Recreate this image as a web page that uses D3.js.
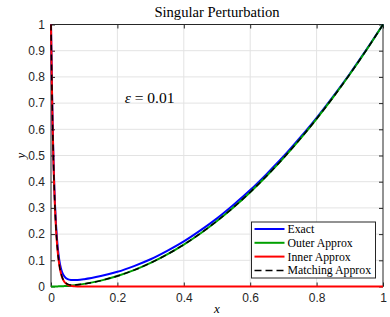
<!DOCTYPE html>
<html>
<head>
<meta charset="utf-8">
<script src="https://cdn.jsdelivr.net/npm/d3@7"></script>
<style>
  body { margin: 0; background: #fff; }
  svg { display: block; font-family: "Liberation Serif", "DejaVu Serif", serif; }
  .grid line { stroke: #e3e3e3; stroke-width: 1; }
  .tick-label { font-size: 12px; fill: #262626; }
  .legend text { font-size: 11.8px; fill: #000; }
</style>
</head>
<body>
<div id="chart"></div>
<script>
// sampled x positions (dense near the boundary layer)
const xs = [0, 0.0025, 0.005, 0.0075, 0.01, 0.015, 0.02, 0.025, 0.03, 0.035, 0.04, 0.05, 0.06, 0.07, 0.08,
  0.1, 0.15, 0.2, 0.25, 0.3, 0.35, 0.4, 0.45, 0.5, 0.55, 0.6, 0.65, 0.7, 0.75, 0.8, 0.85, 0.9, 0.95, 1];

const exactY = [1, 0.783, 0.614, 0.483, 0.380, 0.239, 0.153, 0.101, 0.069, 0.050, 0.039, 0.028, 0.025, 0.0244, 0.025,
  0.028, 0.040, 0.056, 0.078, 0.104, 0.136, 0.172, 0.214, 0.260, 0.312, 0.368, 0.430, 0.496, 0.568, 0.644, 0.726, 0.812, 0.904, 1];

const outerY = [0, 0.00001, 0.00003, 0.00006, 0.0001, 0.0002, 0.0004, 0.0006, 0.0009, 0.0012, 0.0016, 0.0025, 0.0036, 0.0049, 0.0064,
  0.010, 0.0225, 0.040, 0.0625, 0.090, 0.1225, 0.160, 0.2025, 0.250, 0.3025, 0.360, 0.4225, 0.490, 0.5625, 0.640, 0.7225, 0.810, 0.9025, 1];

const innerY = [1, 0.779, 0.607, 0.472, 0.368, 0.223, 0.135, 0.082, 0.050, 0.030, 0.018, 0.007, 0.0025, 0.001, 0.0003,
  0, 0, 0, 0, 0, 0, 0, 0, 0, 0, 0, 0, 0, 0, 0, 0, 0, 0, 0];

const matchY = [1, 0.779, 0.607, 0.472, 0.368, 0.223, 0.135, 0.083, 0.051, 0.031, 0.020, 0.0092, 0.0061, 0.0058, 0.0067,
  0.010, 0.0225, 0.040, 0.0625, 0.090, 0.1225, 0.160, 0.2025, 0.250, 0.3025, 0.360, 0.4225, 0.490, 0.5625, 0.640, 0.7225, 0.810, 0.9025, 1];

const xTicks = [0, 0.2, 0.4, 0.6, 0.8, 1];
const yTicks = [0, 0.1, 0.2, 0.3, 0.4, 0.5, 0.6, 0.7, 0.8, 0.9, 1];

const seriesNames = ['Exact', 'Outer Approx', 'Inner Approx', 'Matching Approx'];
const seriesColors = ['#0000ff', '#00a000', '#ff0000', '#000000'];
const seriesValues = [exactY, outerY, innerY, matchY];

const width = 390, height = 317;
const margin = {top: 24.5, right: 7, bottom: 30.5, left: 51};
const innerW = width - margin.left - margin.right;
const innerH = height - margin.top - margin.bottom;

const svg = d3.select('#chart').append('svg')
    .attr('width', width)
    .attr('height', height);

const chart = svg.append('g')
    .attr('transform', `translate(${margin.left},${margin.top})`);

const xScale = d3.scaleLinear().domain([0, 1]).range([0, innerW]);
const yScale = d3.scaleLinear().domain([0, 1]).range([innerH, 0]);

// grid
const grid = chart.append('g').attr('class', 'grid');
grid.selectAll('.gx')
    .data(xTicks.slice(1, -1))
    .join('line')
    .attr('x1', d => xScale(d)).attr('x2', d => xScale(d))
    .attr('y1', 0).attr('y2', innerH);
grid.selectAll('.gy')
    .data(yTicks.slice(1, -1))
    .join('line')
    .attr('class', 'gy')
    .attr('y1', d => yScale(d)).attr('y2', d => yScale(d))
    .attr('x1', 0).attr('x2', innerW);

// axes, ticks pointing inward on all four sides
const fmt = d => d3.format('')(d);
const styleAxis = g => {
  g.select('.domain').remove();
  g.selectAll('.tick line').attr('stroke', '#262626');
  g.selectAll('.tick text').attr('class', 'tick-label').attr('fill', '#262626');
};

chart.append('g')
    .attr('transform', `translate(0,${innerH})`)
    .call(d3.axisBottom(xScale).tickValues(xTicks).tickFormat(fmt).tickSize(-4).tickPadding(7))
    .call(styleAxis)
    .call(g => g.selectAll('text').attr('font-size', 12).attr('font-family', null));

chart.append('g')
    .call(d3.axisTop(xScale).tickValues(xTicks).tickFormat('').tickSize(-4))
    .call(styleAxis);

chart.append('g')
    .call(d3.axisLeft(yScale).tickValues(yTicks).tickFormat(fmt).tickSize(-4).tickPadding(6))
    .call(styleAxis)
    .call(g => g.selectAll('text').attr('font-size', 12).attr('font-family', null));

chart.append('g')
    .attr('transform', `translate(${innerW},0)`)
    .call(d3.axisRight(yScale).tickValues(yTicks).tickFormat('').tickSize(-4))
    .call(styleAxis);

chart.append('rect')
    .attr('width', innerW)
    .attr('height', innerH)
    .attr('fill', 'none')
    .attr('stroke', '#262626')
    .attr('stroke-width', 1);

// curves
const line = d3.line()
    .x((d, i) => xScale(xs[i]))
    .y(d => yScale(d))
    .curve(d3.curveMonotoneX);

seriesValues.forEach((vals, i) => {
  chart.append('path')
      .datum(vals)
      .attr('fill', 'none')
      .attr('stroke', seriesColors[i])
      .attr('stroke-width', i === 3 ? 1.5 : 2)
      .attr('stroke-dasharray', i === 3 ? '6,4' : null)
      .attr('d', line);
});

// titles
svg.append('text')
    .attr('x', margin.left + innerW / 2)
    .attr('y', 17)
    .attr('text-anchor', 'middle')
    .attr('font-size', 14.6)
    .text('Singular Perturbation');

svg.append('text')
    .attr('x', margin.left + innerW / 2)
    .attr('y', 313)
    .attr('text-anchor', 'middle')
    .attr('font-size', 13)
    .attr('font-style', 'italic')
    .text('x');

svg.append('text')
    .attr('transform', `translate(25,${margin.top + innerH / 2}) rotate(-90)`)
    .attr('text-anchor', 'middle')
    .attr('font-size', 13)
    .attr('font-style', 'italic')
    .text('y');

// epsilon annotation
const ann = chart.append('text')
    .attr('x', xScale(0.222))
    .attr('y', yScale(0.70))
    .attr('font-size', 15.5);
ann.append('tspan').attr('font-style', 'italic').text('ε');
ann.append('tspan').text(' = 0.01');

// legend
const legend = svg.append('g').attr('class', 'legend')
    .attr('transform', 'translate(251.5,222)');
legend.append('rect')
    .attr('width', 124)
    .attr('height', 56)
    .attr('fill', '#fff')
    .attr('stroke', '#262626')
    .attr('stroke-width', 1);

const rows = legend.selectAll('.row')
    .data(seriesNames)
    .join('g')
    .attr('class', 'row')
    .attr('transform', (d, i) => `translate(0,${7 + i * 13.8})`);

rows.append('line')
    .attr('x1', 3).attr('x2', 33)
    .attr('stroke', (d, i) => seriesColors[i])
    .attr('stroke-width', (d, i) => i === 3 ? 1.5 : 2)
    .attr('stroke-dasharray', (d, i) => i === 3 ? '7,4' : null);

rows.append('text')
    .attr('x', 36)
    .attr('dy', '0.33em')
    .text(d => d);
</script>
</body>
</html>
